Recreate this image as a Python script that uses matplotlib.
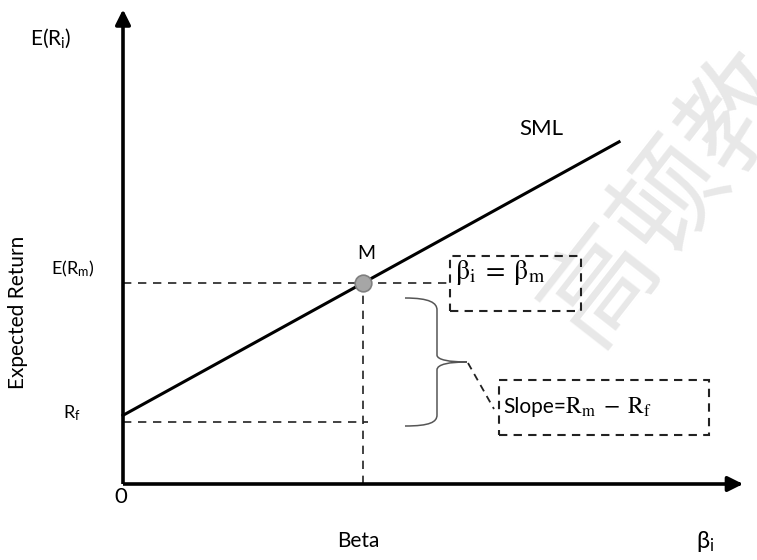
import matplotlib
matplotlib.use("Agg")
import matplotlib.pyplot as plt
from matplotlib.patches import Rectangle, PathPatch
from matplotlib.path import Path

plt.rcParams['font.family'] = ['Lato', 'DejaVu Sans']
plt.rcParams['mathtext.fontset'] = 'custom'
plt.rcParams['mathtext.rm'] = 'Lato'
plt.rcParams['mathtext.it'] = 'Lato'

# ---- data ----
rf = 0.041          # risk-free rate (intercept)
rf_level = 0.037    # dashed R_f guide level
rm = 0.12           # expected market return
beta_m = 1.0        # market beta
beta_end = 2.067    # end of the SML drawn
sml_beta = [0.0, beta_m, beta_end]
sml_ret = [rf, rm, rf + (rm - rf) * beta_end]
x_max_axis = 2.59
y_max_axis = 0.284

fig = plt.figure(figsize=(7.57, 5.6), dpi=100)
ax = fig.add_axes([0, 0, 1, 1])
ax.set_xlim(-0.5125, 2.6417)
ax.set_ylim(-0.04537, 0.28896)
ax.axis('off')


def px(x, y):
    return ((x - 123) / 240, (484 - y) / 1675)


# watermark
wx, wy = px(670, 198)
ax.text(wx, wy, '高顿教', fontsize=80, color='#e8e8e8', rotation=52,
        ha='center', va='center', family=['Noto Sans CJK SC', 'DejaVu Sans'],
        fontweight='light', zorder=0, rotation_mode='anchor')

# axes with arrows
ax.plot([0, x_max_axis - 0.04], [0, 0], color='black', lw=2.6, solid_capstyle='butt', zorder=3)
ax.plot([0, 0], [0, y_max_axis - 0.006], color='black', lw=2.6, solid_capstyle='butt', zorder=3)
ax.annotate('', xy=(x_max_axis + 0.005, 0), xytext=(x_max_axis - 0.05, 0),
            arrowprops=dict(arrowstyle='-|>,head_length=0.9,head_width=0.45', color='black', lw=2.6))
ax.annotate('', xy=(0, y_max_axis + 0.001), xytext=(0, y_max_axis - 0.012),
            arrowprops=dict(arrowstyle='-|>,head_length=0.9,head_width=0.45', color='black', lw=2.6))

# SML
ax.plot([sml_beta[0], sml_beta[2]], [sml_ret[0], sml_ret[2]], color='black', lw=2.2, zorder=3)

# dashed guides
dash = dict(color='#222222', lw=1.2, linestyle=(0, (5, 4)), zorder=2)
ax.plot([0, 1.355], [rm, rm], **dash)
ax.plot([beta_m, beta_m], [0, rm], **dash)
ax.plot([0, 1.02], [rf_level, rf_level], **dash)

# market point
ax.plot([beta_m], [rm], 'o', markersize=12, markerfacecolor='#a6a6a6',
        markeredgecolor='#7f7f7f', markeredgewidth=1.2, zorder=4)

# labels
fs = 15
ax.text(*px(51, 38), r'E(R$_{\mathrm{i}}$)', fontsize=fs, ha='center', va='center')
ax.text(*px(73, 269), r'E(R$_{\mathrm{m}}$)', fontsize=fs - 2, ha='center', va='center')
ax.text(*px(72, 413), r'R$_{\mathrm{f}}$', fontsize=fs - 2, ha='center', va='center')
ax.text(*px(121, 497), '0', fontsize=fs + 1, ha='center', va='center')
ax.text(*px(358, 541), 'Beta', fontsize=fs, ha='center', va='center')
ax.text(*px(705, 541), r'β$_{\mathrm{i}}$', fontsize=fs + 2, ha='center', va='center')
ax.text(*px(18, 312), 'Expected Return', fontsize=fs, ha='center', va='center', rotation=90)
ax.text(*px(366, 253), 'M', fontsize=fs - 1, ha='center', va='center')
ax.text(*px(541, 129), 'SML', fontsize=fs + 1, ha='center', va='center')

# box 1
ax.add_patch(Rectangle(px(450, 311), (581 - 450) / 240, 55 / 1675,
                       fill=False, ec='#222222', lw=1.5, linestyle=(0, (4, 3)), zorder=3))
ax.text(*px(455, 272), r'$\mathrm{β}_\mathrm{i}\;=\;\mathrm{β}_\mathrm{m}$', fontsize=20,
        ha='left', va='center', math_fontfamily='stix')

# box 2
ax.add_patch(Rectangle(px(499, 435), (709 - 499) / 240, 55 / 1675,
                       fill=False, ec='#222222', lw=1.5, linestyle=(0, (4, 3)), zorder=3))
slope = ax.text(*px(503, 407), 'Slope=', fontsize=15, ha='left', va='center')
ax.annotate(r'$\mathrm{R}_\mathrm{m}\;-\;\mathrm{R}_\mathrm{f}$', xy=(1.0, 0.5), xycoords=slope,
            xytext=(-1, 0), textcoords='offset points',
            fontsize=17, ha='left', va='center', math_fontfamily='stix')

# brace
verts = [px(405, 298), px(430, 298), px(437, 303), px(437, 310),
         px(437, 355),
         px(437, 360), px(450, 362), px(467, 362),
         px(450, 362), px(437, 364), px(437, 370),
         px(437, 415),
         px(437, 422), px(430, 426), px(405, 426)]
codes = [Path.MOVETO, Path.CURVE4, Path.CURVE4, Path.CURVE4,
         Path.LINETO,
         Path.CURVE4, Path.CURVE4, Path.CURVE4,
         Path.CURVE4, Path.CURVE4, Path.CURVE4,
         Path.LINETO,
         Path.CURVE4, Path.CURVE4, Path.CURVE4]
ax.add_patch(PathPatch(Path(verts, codes), fill=False, ec='#555555', lw=1.1, zorder=3))

# leader
a, b = px(468, 363), px(494, 409)
ax.plot([a[0], b[0]], [a[1], b[1]], color='#222222', lw=1.3, linestyle=(0, (4, 3)), zorder=3)

fig.savefig('out.png', dpi=100)
